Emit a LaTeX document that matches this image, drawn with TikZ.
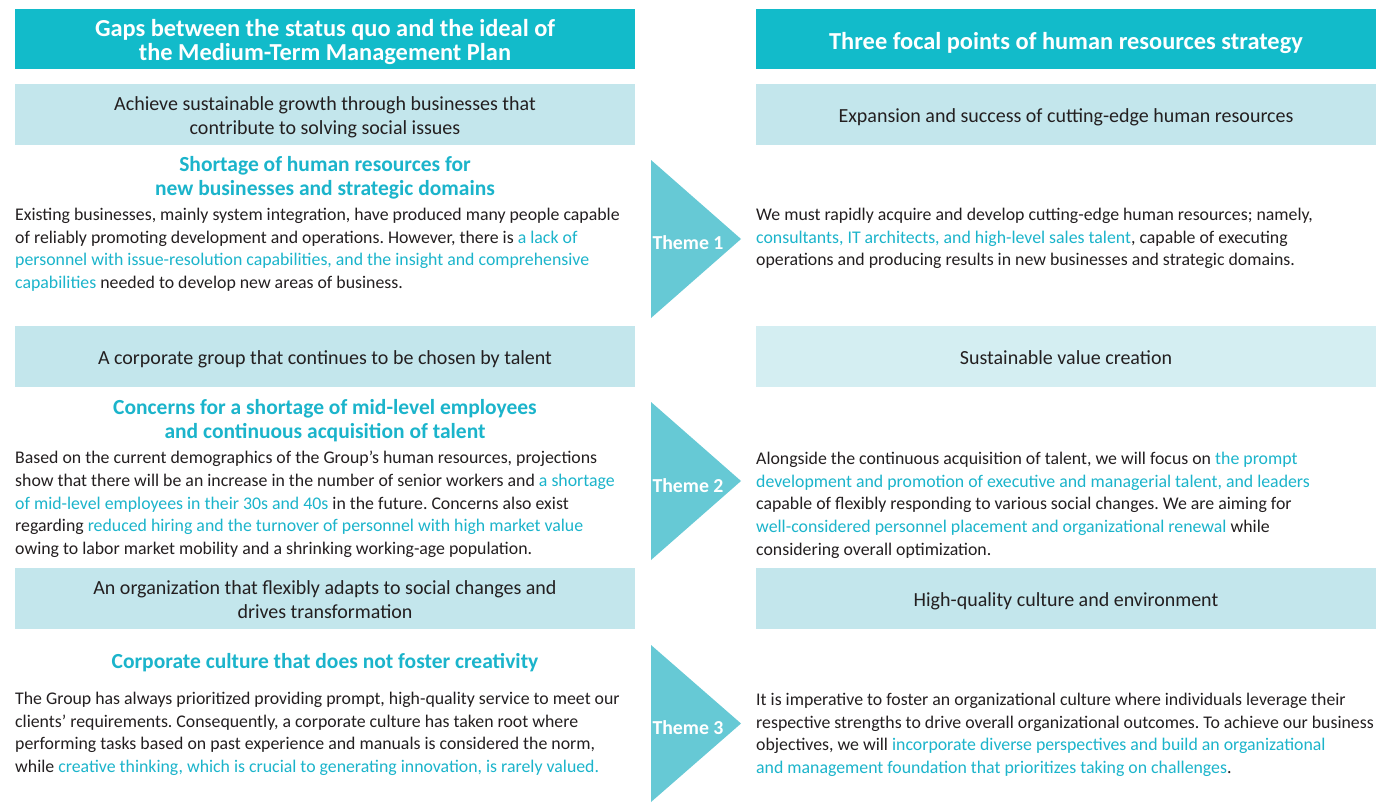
\documentclass[tikz,border=0pt]{standalone}
\usepackage{fontspec}
\setmainfont{Carlito}
\definecolor{hdr}{HTML}{12BBCA}
\definecolor{lbox}{HTML}{C3E6EC}
\definecolor{lboxb}{HTML}{D4EEF2}
\definecolor{tri}{HTML}{66C9D5}
\definecolor{hl}{HTML}{1BB4CB}
\definecolor{txt}{HTML}{231F20}
\newcommand{\hlt}[1]{\textcolor{hl}{#1}}
\begin{document}
\frenchspacing
\begin{tikzpicture}[x=1pt,y=-1pt,
  hdrbox/.style={fill=hdr, minimum width=620pt, minimum height=60pt, inner sep=0pt},
  subbox/.style={fill=lbox, minimum width=620pt, minimum height=61pt, inner sep=0pt},
  hdrtext/.style={inner sep=0pt, text=white, align=center, font=\fontsize{24.4}{24}\selectfont\bfseries},
  subtext/.style={inner sep=0pt, text=txt, align=center, font=\fontsize{20}{24}\selectfont},
  head/.style={inner sep=0pt, text=hl, align=center, font=\fontsize{21.5}{24}\selectfont\bfseries},
  body/.style={inner sep=0pt, text=txt, align=left, anchor=north west, font=\fontsize{17.8}{22.7}\selectfont},
  theme/.style={inner sep=0pt, text=white, font=\fontsize{19.8}{20}\selectfont\bfseries},
  trishape/.style={fill=tri}]
\useasboundingbox (0,0) rectangle (1376,806);
\fill[white] (0,0) rectangle (1376,806);

% headers
\node[hdrbox] (hl) at (325,38.5) {};
\node[hdrbox] (hr) at (1066,38.5) {};
\node[hdrtext, yshift=-4pt] at (hl.center) {Gaps between the status quo and the ideal of\\the Medium-Term Management Plan};
\node[hdrtext, yshift=-5pt] at (hr.center) {Three focal points of human resources strategy};

% sub boxes
\node[subbox] (s1l) at (325,114.5) {};
\node[subbox] (s1r) at (1066,114.5) {};
\node[subbox] (s2l) at (325,356) {};
\node[subbox, fill=lboxb] (s2r) at (1066,356) {};
\node[subbox] (s3l) at (325,598) {};
\node[subbox] (s3r) at (1066,598) {};
\node[subtext, yshift=-3pt] at (s1l.center) {Achieve sustainable growth through businesses that\\contribute to solving social issues};
\node[subtext, yshift=-3pt] at (s1r.center) {Expansion and success of cutting-edge human resources};
\node[subtext, yshift=-3pt] at (s2l.center) {A corporate group that continues to be chosen by talent};
\node[subtext, yshift=-2pt] at (s2r.center) {Sustainable value creation};
\node[subtext, yshift=-1.5pt] at (s3l.center) {An organization that flexibly adapts to social changes and\\drives transformation};
\node[subtext, yshift=-3pt] at (s3r.center) {High-quality culture and environment};

% headings
\node[head] (h1) at (325,178) {Shortage of human resources for\\new businesses and strategic domains};
\node[head] (h2) at (325,421) {Concerns for a shortage of mid-level employees\\and continuous acquisition of talent};
\node[head] (h3) at (325,663) {Corporate culture that does not foster creativity};

% left bodies
\node[body] (b1l) at (15,208) {Existing businesses, mainly system integration, have produced many people capable\\
of reliably promoting development and operations. However, there is \hlt{a lack of}\\
\hlt{personnel with issue-resolution capabilities, and the insight and comprehensive}\\
\hlt{capabilities} needed to develop new areas of business.};
\node[body] (b2l) at (15,451) {Based on the current demographics of the Group’s human resources, projections\\
show that there will be an increase in the number of senior workers and \hlt{a shortage}\\
\hlt{of mid-level employees in their 30s and 40s} in the future. Concerns also exist\\
regarding \hlt{reduced hiring and the turnover of personnel with high market value}\\
owing to labor market mobility and a shrinking working-age population.};
\node[body] (b3l) at (15,692) {The Group has always prioritized providing prompt, high-quality service to meet our\\
clients’ requirements. Consequently, a corporate culture has taken root where\\
performing tasks based on past experience and manuals is considered the norm,\\
while \hlt{creative thinking, which is crucial to generating innovation, is rarely valued.}};

% right bodies
\node[body] (b1r) at (756,208) {We must rapidly acquire and develop cutting-edge human resources; namely,\\
\hlt{consultants, IT architects, and high-level sales talent}, capable of executing\\
operations and producing results in new businesses and strategic domains.};
\node[body] (b2r) at (756,452) {Alongside the continuous acquisition of talent, we will focus on \hlt{the prompt}\\
\hlt{development and promotion of executive and managerial talent, and leaders}\\
capable of flexibly responding to various social changes. We are aiming for\\
\hlt{well-considered personnel placement and organizational renewal} while\\
considering overall optimization.};
\node[body] (b3r) at (756,693) {It is imperative to foster an organizational culture where individuals leverage their\\
respective strengths to drive overall organizational outcomes. To achieve our business\\
objectives, we will \hlt{incorporate diverse perspectives and build an organizational}\\
\hlt{and management foundation that prioritizes taking on challenges}.};

% theme triangles
\fill[trishape] (651,160) -- (741,239) -- (651,318) -- cycle;
\fill[trishape] (651,402) -- (741,481) -- (651,560) -- cycle;
\fill[trishape] (651,645) -- (741,723.5) -- (651,802) -- cycle;
\node[theme] (t1) at (688,243) {Theme 1};
\node[theme] (t2) at (688,486) {Theme 2};
\node[theme] (t3) at (688,728) {Theme 3};
\end{tikzpicture}
\end{document}
